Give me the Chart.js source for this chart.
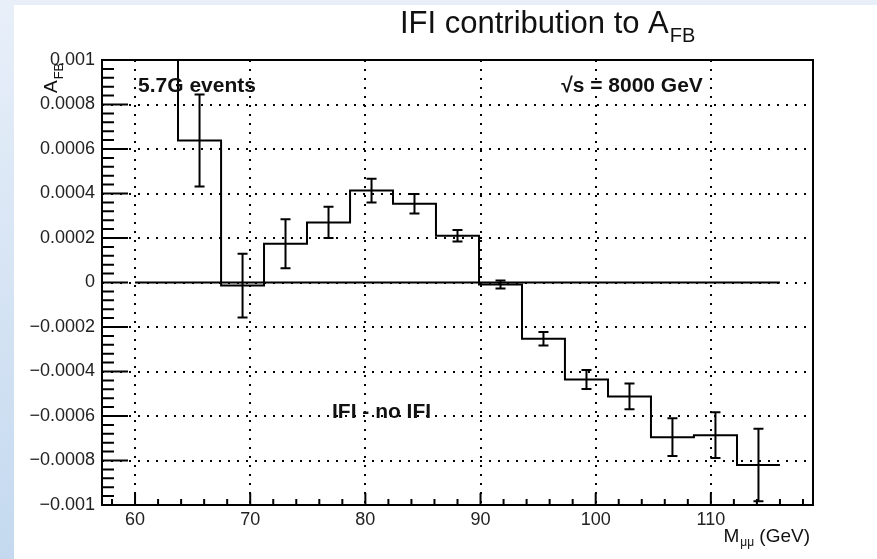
<!DOCTYPE html>
<html lang="en">
<head>
<meta charset="UTF-8">
<title>IFI contribution to AFB</title>
<script src="https://cdn.jsdelivr.net/npm/chart.js"></script>
<style>
    body {
        margin: 0;
        width: 877px;
        height: 559px;
        overflow: hidden;
        background: linear-gradient(to bottom, #e8eff9, #c4d9ef);
    }
    #box {
        position: absolute;
        left: 14px;
        top: 5px;
        width: 863px;
        height: 554px;
        background: #ffffff;
    }
    canvas { display: block; }
</style>
</head>
<body>
<div id="box"><canvas id="afbChart" width="863" height="554"></canvas></div>

<script>
    // 15 bins in M_mumu (GeV) between 60 and 116
    const binEdges = [60, 63.73, 67.47, 71.2, 74.93, 78.67, 82.4, 86.13, 89.87, 93.6, 97.33, 101.07, 104.8, 108.53, 112.27, 116];
    const afbValues = [0.0013, 0.000638, -0.000014, 0.000174, 0.00027, 0.000413, 0.000354, 0.00021, -0.000009, -0.000253, -0.000436, -0.000512, -0.000695, -0.000686, -0.00082];
    const afbErrors = [0.0003, 0.000207, 0.000143, 0.00011, 0.00007, 0.000053, 0.000044, 0.000026, 0.000018, 0.00003, 0.000043, 0.000058, 0.000085, 0.000103, 0.000163];
    const xTickStep = 10;
    const yTickStep = 0.0002;
    const xMinorStep = 2;
    const yMinorStep = 0.00004;

    const FONT = '"Liberation Sans", Arial, Helvetica, sans-serif';

    // histogram outline: each bin gives a flat segment from its low edge to its high edge
    let histPoints = [];
    for (let i = 0; i < afbValues.length; i++) {
        histPoints.push({ x: binEdges[i], y: afbValues[i] });
        histPoints.push({ x: binEdges[i + 1], y: afbValues[i] });
    }
    const zeroLine = [{ x: binEdges[0], y: 0 }, { x: binEdges[binEdges.length - 1], y: 0 }];

    function fmtY(v) {
        if (Math.abs(v) < 1e-12) return '0';
        let s = String(Number(v.toFixed(4)));
        return s.replace('-', '\u2212');
    }

    // error bars, inward ticks, frame and the ROOT-style texts
    const rootStyle = {
        id: 'rootStyle',
        afterDatasetsDraw(chart) {
            const ctx = chart.ctx, a = chart.chartArea;
            const xs = chart.scales.x, ys = chart.scales.y;
            ctx.save();
            ctx.beginPath();
            ctx.rect(a.left, a.top, a.right - a.left, a.bottom - a.top);
            ctx.clip();
            ctx.strokeStyle = '#000';
            ctx.lineWidth = 2;
            for (let i = 0; i < afbValues.length; i++) {
                let cx = xs.getPixelForValue((binEdges[i] + binEdges[i + 1]) / 2);
                let yHi = ys.getPixelForValue(afbValues[i] + afbErrors[i]);
                let yLo = ys.getPixelForValue(afbValues[i] - afbErrors[i]);
                ctx.beginPath();
                ctx.moveTo(cx, yHi); ctx.lineTo(cx, yLo);
                ctx.moveTo(cx - 5, yHi); ctx.lineTo(cx + 5, yHi);
                ctx.moveTo(cx - 5, yLo); ctx.lineTo(cx + 5, yLo);
                ctx.stroke();
            }
            ctx.restore();
        },
        afterDraw(chart) {
            const ctx = chart.ctx, a = chart.chartArea;
            const xs = chart.scales.x, ys = chart.scales.y;
            ctx.save();
            ctx.strokeStyle = '#000';
            ctx.lineWidth = 2;

            // x ticks (inward)
            ctx.beginPath();
            let xStart = Math.ceil(xs.min / xMinorStep) * xMinorStep;
            for (let v = xStart; v <= xs.max; v += xMinorStep) {
                let px = xs.getPixelForValue(v);
                let len = (Math.round(v) % xTickStep === 0) ? 12 : 6;
                ctx.moveTo(px, a.bottom); ctx.lineTo(px, a.bottom - len);
            }
            // y ticks (inward)
            let n = Math.round((ys.max - ys.min) / yMinorStep);
            for (let k = 0; k <= n; k++) {
                let v = ys.min + k * yMinorStep;
                let py = ys.getPixelForValue(v);
                let len = (k % 5 === 0) ? 26 : 12;
                ctx.moveTo(a.left, py); ctx.lineTo(a.left + len, py);
            }
            ctx.stroke();

            // frame
            ctx.strokeRect(a.left, a.top, a.right - a.left, a.bottom - a.top);

            ctx.fillStyle = '#111';
            ctx.textBaseline = 'alphabetic';
            ctx.textAlign = 'left';

            // title
            ctx.font = '31px ' + FONT;
            let t = 'IFI contribution to A';
            ctx.fillText(t, 386, 28);
            let tw = ctx.measureText(t).width;
            ctx.font = '20px ' + FONT;
            ctx.fillText('FB', 386 + tw + 1, 37);

            // y axis title (rotated)
            ctx.save();
            ctx.translate(43, 88);
            ctx.rotate(-Math.PI / 2);
            ctx.font = '19px ' + FONT;
            ctx.fillText('A', 0, 0);
            let aw = ctx.measureText('A').width;
            ctx.font = '13px ' + FONT;
            ctx.fillText('FB', aw + 1, 6);
            ctx.restore();

            // x axis title
            ctx.font = '19px ' + FONT;
            let gev = ' (GeV)';
            let gw = ctx.measureText(gev).width;
            let mw = ctx.measureText('M').width;
            ctx.font = '12px ' + FONT;
            let uw = ctx.measureText('\u03bc\u03bc').width;
            let xr = 795;
            let x0 = xr - gw - uw - mw;
            ctx.font = '19px ' + FONT;
            ctx.fillText('M', x0, 537);
            ctx.font = '12px ' + FONT;
            ctx.fillText('\u03bc\u03bc', x0 + mw + 1, 541);
            ctx.font = '19px ' + FONT;
            ctx.fillText(gev, x0 + mw + uw + 1, 537);

            // annotations
            ctx.font = 'bold 21px ' + FONT;
            ctx.fillText('5.7G events', xs.getPixelForValue(60.26), ys.getPixelForValue(0.000854));
            ctx.fillText('\u221as = 8000 GeV', xs.getPixelForValue(97.0), ys.getPixelForValue(0.000854));
            ctx.fillText('IFI - no IFI', xs.getPixelForValue(77.1), ys.getPixelForValue(-0.000611));
            ctx.restore();
        }
    };

    const config = {
        type: 'line',
        data: {
            datasets: [{
                label: 'IFI - no IFI',
                data: histPoints,
                borderColor: '#000',
                borderWidth: 2,
                pointRadius: 0,
                fill: false,
                tension: 0
            }, {
                label: 'zero',
                data: zeroLine,
                borderColor: '#000',
                borderWidth: 2,
                pointRadius: 0,
                fill: false
            }]
        },
        options: {
            responsive: false,
            animation: false,
            layout: { padding: { top: 55, right: 64, left: 0, bottom: 0 } },
            plugins: {
                legend: { display: false },
                tooltip: { enabled: false },
                title: { display: false }
            },
            scales: {
                x: {
                    type: 'linear',
                    min: 57.13,
                    max: 118.87,
                    afterFit: function (s) { s.height = 54; },
                    grid: { color: '#000', lineWidth: 2, drawTicks: false },
                    border: { display: false, dash: [2, 7] },
                    ticks: {
                        stepSize: xTickStep,
                        includeBounds: false,
                        padding: 4,
                        maxRotation: 0,
                        color: '#222',
                        font: { family: FONT, size: 18 }
                    }
                },
                y: {
                    type: 'linear',
                    min: -0.001,
                    max: 0.001,
                    afterFit: function (s) { s.width = 88; },
                    grid: { color: '#000', lineWidth: 2, drawTicks: false },
                    border: { display: false, dash: [2, 7] },
                    ticks: {
                        stepSize: yTickStep,
                        padding: 7,
                        color: '#222',
                        font: { family: FONT, size: 18 },
                        callback: function (v) { return fmtY(v); }
                    }
                }
            }
        },
        plugins: [rootStyle]
    };

    let afbChart = new Chart(document.getElementById('afbChart'), config);
</script>
</body>
</html>
